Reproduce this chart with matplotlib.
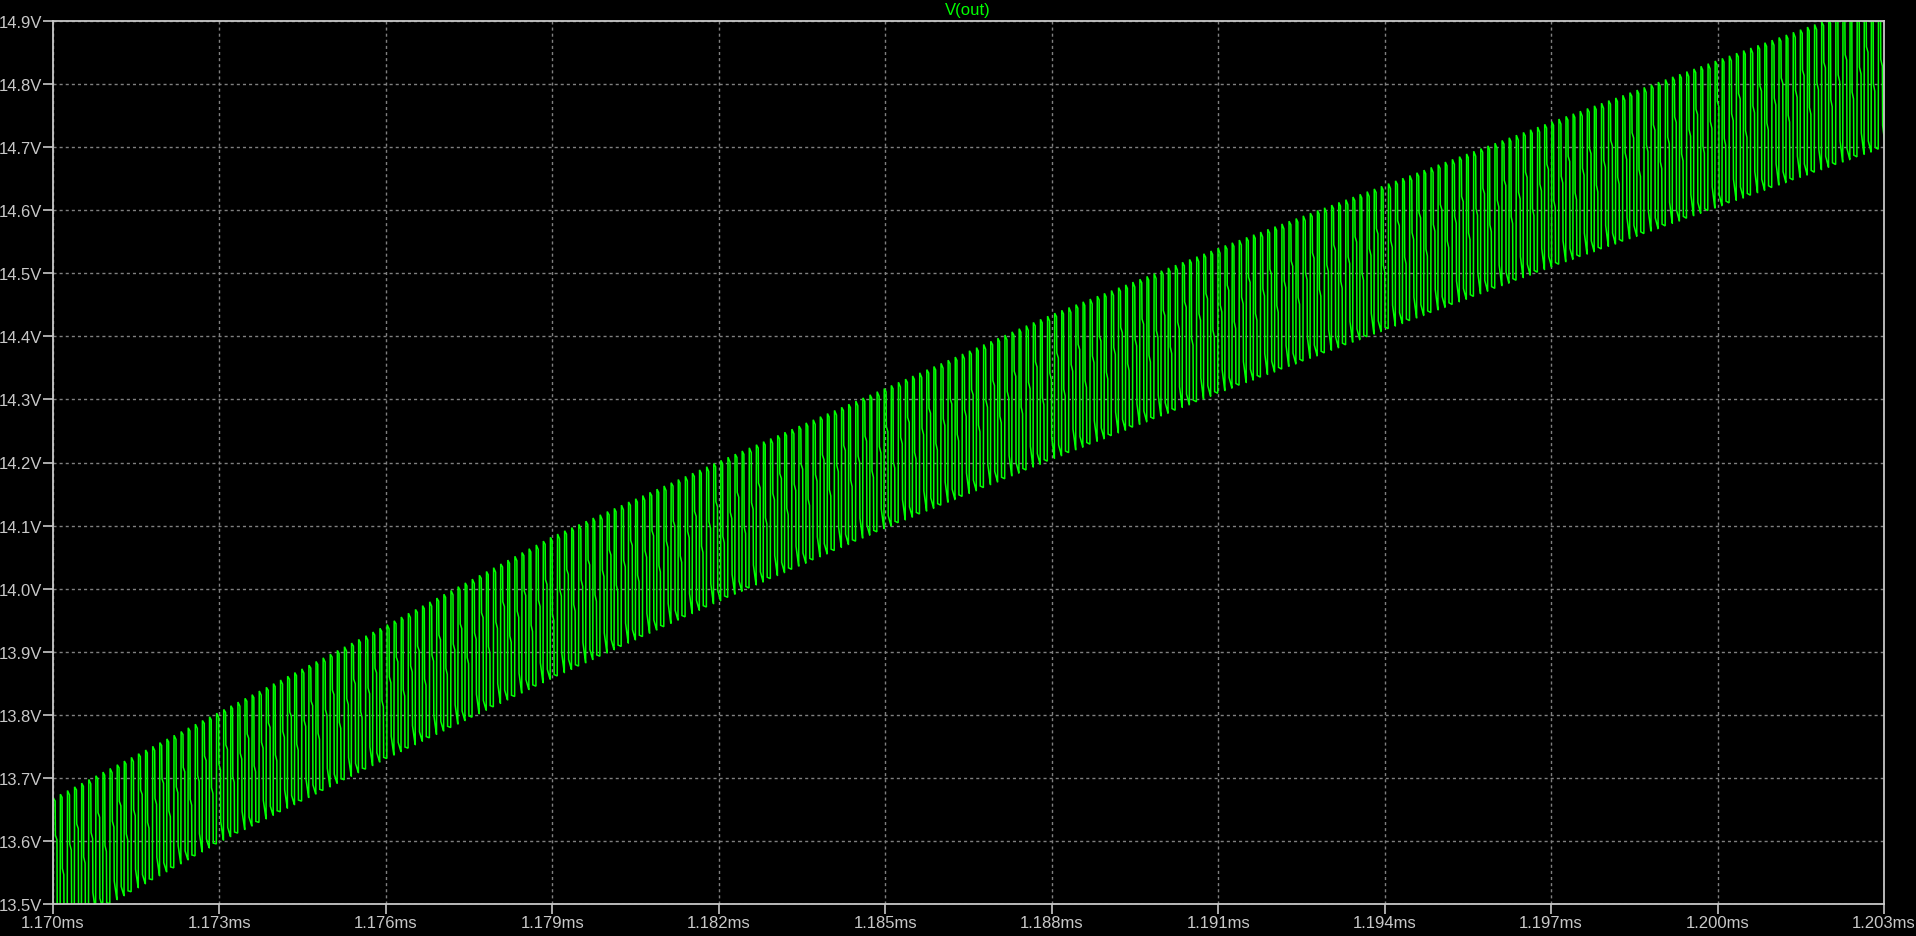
import numpy as np
import matplotlib
matplotlib.use("Agg")
import matplotlib.pyplot as plt

# Tick positions (ms) and envelope of V(out) read at each tick
tick_ms = [1.170, 1.173, 1.176, 1.179, 1.182, 1.185, 1.188, 1.191, 1.194, 1.197, 1.200, 1.203]
top_env = [13.668, 13.805, 13.942, 14.083, 14.202, 14.318, 14.435, 14.540, 14.640, 14.740, 14.838, 14.935]
bot_env = [13.450, 13.598, 13.730, 13.858, 13.980, 14.096, 14.205, 14.310, 14.410, 14.510, 14.605, 14.700]

# Three ripple cycles as drawn: phase (in periods) -> level (0 = bottom, 1 = top)
cycle_phase = [0.00, 0.04, 0.30, 0.34, 0.56, 0.60, 0.99,
               1.00, 1.04, 1.28, 1.32, 1.52, 1.56, 1.99,
               2.00, 2.04, 2.32, 2.36, 2.58, 2.62, 2.99]
cycle_level = [0.00, 1.00, 0.97, 0.72, 0.68, 0.08, 0.00,
               0.00, 1.00, 0.97, 0.45, 0.40, 0.02, 0.00,
               0.00, 1.00, 0.96, 0.60, 0.55, 0.15, 0.00]
cycles_per_block = 3
period_ms = 0.000128

y_ticks = [13.5, 13.6, 13.7, 13.8, 13.9, 14.0, 14.1, 14.2, 14.3, 14.4, 14.5, 14.6, 14.7, 14.8, 14.9]

fg = "#c8c8c8"
grid_c = "#808080"
trace_c = "#00ff00"

# build the trace by repeating the cycle block along the envelope
n_blocks = int((tick_ms[-1] - tick_ms[0]) / (period_ms * cycles_per_block)) + 1
starts = np.arange(n_blocks)[:, None] * cycles_per_block
t = (tick_ms[0] + (starts + np.array(cycle_phase)[None, :]) * period_ms).ravel()
lvl = np.tile(cycle_level, n_blocks)
top = np.interp(t, tick_ms, top_env)
bot = np.interp(t, tick_ms, bot_env)
v = bot + lvl * (top - bot)

W, H = 1916, 937
fig = plt.figure(figsize=(W / 100, H / 100), dpi=100, facecolor="black")
ax = fig.add_axes([53 / W, (H - 905) / H, 1831 / W, 883 / H], facecolor="black")

ax.plot(t, v, color=trace_c, lw=1.1, solid_joinstyle="miter")

ax.set_xlim(tick_ms[0], tick_ms[-1])
ax.set_ylim(y_ticks[0], y_ticks[-1])
ax.set_xticks(tick_ms)
ax.set_xticklabels([f"{x:.3f}ms" for x in tick_ms])
ax.set_yticks(y_ticks)
ax.set_yticklabels([f"{y:.1f}V" for y in y_ticks])

ax.grid(True, color=grid_c, lw=1.0, linestyle=(0, (2.2, 2.2)))
for s in ax.spines.values():
    s.set_color(fg)
    s.set_linewidth(1.3)

ax.tick_params(colors=fg, labelcolor=fg, length=7, width=1.2, direction="out", pad=1)
for lab in ax.get_xticklabels() + ax.get_yticklabels():
    lab.set_fontfamily("Liberation Sans")
    lab.set_fontsize(12)

fig.text(968 / W, 1 - 10 / H, "V(out)", color=trace_c, ha="center", va="center",
         fontsize=12, fontfamily="Liberation Sans")

fig.savefig("out.png", dpi=100, facecolor="black")
